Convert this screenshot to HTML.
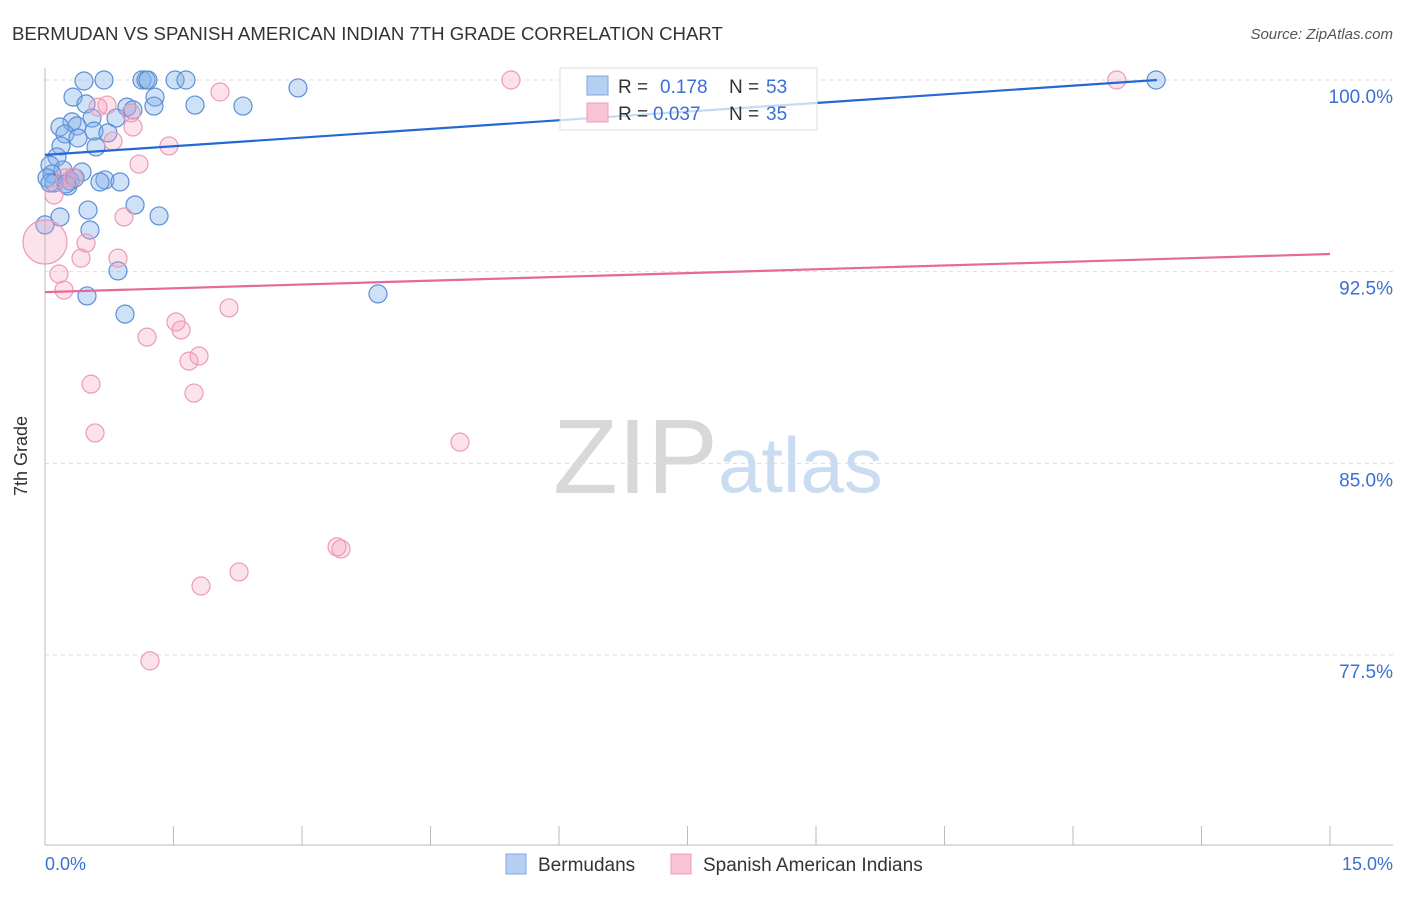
<!DOCTYPE html>
<html><head><meta charset="utf-8"><style>
body{margin:0;background:#fff;font-family:"Liberation Sans",sans-serif}
svg text{font-family:"Liberation Sans",sans-serif}
</style></head><body>
<svg width="1406" height="892" xmlns="http://www.w3.org/2000/svg">
<text x="12" y="40" font-size="18.6" fill="#333">BERMUDAN VS SPANISH AMERICAN INDIAN 7TH GRADE CORRELATION CHART</text>
<text x="1393" y="39" font-size="15" fill="#555" font-style="italic" text-anchor="end">Source: ZipAtlas.com</text>
<g>
<text x="553" y="493" font-family="Liberation Serif,serif" font-size="106" fill="#d8d8d8">ZIP</text>
<text x="718" y="492" font-size="78" fill="#c9dcf2">atlas</text>
</g>
<g id="grid"></g>
<line x1="45" y1="68" x2="45" y2="845" stroke="#bbb"/>
<line x1="45" y1="845" x2="1393" y2="845" stroke="#bbb"/>
<g id="ticks"></g>
<text x="27" y="456" font-size="18" fill="#333" transform="rotate(-90 27 456)" text-anchor="middle">7th Grade</text>
<text x="45" y="870" font-size="18" fill="#3b6fd4">0.0%</text>
<text x="1393" y="870" font-size="18" fill="#3b6fd4" text-anchor="end">15.0%</text>
<g id="pts"></g>
<g id="lines"></g>
<g>
<rect x="560" y="68" width="257" height="62" fill="rgba(255,255,255,0.75)" stroke="#ddd"/>
<rect x="587" y="76" width="21" height="19" fill="#b6d0f3" stroke="#7ea6e0"/>
<rect x="587" y="103" width="21" height="19" fill="#f8c3d3" stroke="#eb9cb6"/>
<text x="618" y="93" font-size="19" fill="#333">R =</text><text x="660" y="93" font-size="19" fill="#3b6fd4">0.178</text>
<text x="729" y="93" font-size="19" fill="#333">N =</text><text x="766" y="93" font-size="19" fill="#3b6fd4">53</text>
<text x="618" y="120" font-size="19" fill="#333">R =</text><text x="653" y="120" font-size="19" fill="#3b6fd4">0.037</text>
<text x="729" y="120" font-size="19" fill="#333">N =</text><text x="766" y="120" font-size="19" fill="#3b6fd4">35</text>
</g>
<g>
<rect x="506" y="854" width="20" height="20" fill="#b6d0f3" stroke="#7ea6e0"/>
<text x="538" y="871" font-size="19" fill="#333">Bermudans</text>
<rect x="671" y="854" width="20" height="20" fill="#f8c3d3" stroke="#eb9cb6"/>
<text x="703" y="871" font-size="19" fill="#333">Spanish American Indians</text>
</g>
</svg>
<script>
const yTicks=[100,92.5,85,77.5];
const yTickLabels=["100.0%","92.5%","85.0%","77.5%"];
const xTicks=[0,1.5,3,4.5,6,7.5,9,10.5,12,13.5,15];
const blueX=[0.455,0.689,1.132,1.179,1.202,1.518,1.646,2.953,12.97,0.327,0.479,0.957,1.284,1.272,1.751,2.311,1.027,0.549,0.829,0.315,0.175,0.374,0.233,0.572,0.735,0.385,0.187,0.595,0.14,0.058,0.21,0.432,0.082,0.023,0.292,0.105,0.268,0.7,0.875,0.175,0.502,1.051,1.331,0,0.525,0.852,0.49,0.934,3.887,0.058,0.245,0.642,0.35];
const blueY=[99.96,100,100,100,100,100,100,99.69,100,99.33,99.06,98.94,99.33,98.98,99.02,98.98,98.83,98.51,98.51,98.36,98.16,98.2,97.89,98,97.93,97.73,97.42,97.38,96.99,96.67,96.48,96.4,96.32,96.17,96.05,95.97,95.85,96.09,96.01,94.64,94.91,95.11,94.68,94.33,94.13,92.53,91.55,90.84,91.63,95.97,95.93,96.01,96.17];
const pinkX=[5.44,12.51,2.043,0.724,1.004,1.027,0.794,1.447,1.097,0.327,0.105,0.922,0,0.479,0.42,0.852,0.163,0.222,2.148,1.529,1.588,1.191,1.798,1.681,1.739,0.537,0.584,4.844,3.409,3.455,2.265,1.821,1.226,0.619,0.233];
const pinkY=[100,100,99.53,99.02,98.71,98.16,97.61,97.42,96.71,96.2,95.5,94.64,93.66,93.62,93.03,93.03,92.41,91.78,91.08,90.53,90.22,89.94,89.2,89,87.75,88.1,86.19,85.83,81.73,81.65,80.75,80.2,77.27,98.94,96.17];
const pinkR=[9,9,9,9,9,9,9,9,9,9,9,9,22,9,9,9,9,9,9,9,9,9,9,9,9,9,9,9,9,9,9,9,9,9,9];
const blueLine=[[0,97.07],[12.98,100]];
const pinkLine=[[0,91.7],[15,93.19]];
const NS="http://www.w3.org/2000/svg";
const sx=v=>45+v/15*1285;
const sy=v=>80+(100-v)/7.5*191.67;
function mk(t,a,p){const e=document.createElementNS(NS,t);for(const k in a)e.setAttribute(k,a[k]);p.appendChild(e);return e;}
const grid=document.getElementById('grid');
yTicks.forEach((t,i)=>{
 const l=mk('line',{x1:45,x2:1393,y1:sy(t),y2:sy(t),stroke:'#ddd','stroke-dasharray':'4,4'},grid);
 
 
 const tx=mk('text',{x:1393,y:sy(t)+23,'font-size':19,fill:'#3b6fd4','text-anchor':'end'},grid);
 tx.textContent=yTickLabels[i];
 
 
});
const ticks=document.getElementById('ticks');
xTicks.forEach(t=>{
 const l=mk('line',{x1:sx(t),x2:sx(t),y1:826,y2:845,stroke:'#bbb'},ticks);
 
 
});
const pts=document.getElementById('pts');
blueX.forEach((x,i)=>{
 const c=mk('circle',{cx:sx(x),cy:sy(blueY[i]),r:9,fill:'rgba(130,175,232,0.38)',stroke:'#5b8fd8','stroke-width':1.2},pts);
 
 
});
pinkX.forEach((x,i)=>{
 const c=mk('circle',{cx:sx(x),cy:sy(pinkY[i]),r:pinkR[i],fill:'rgba(244,160,188,0.3)',stroke:'#ec9ab6','stroke-width':1.2},pts);
 
 
});
const lines=document.getElementById('lines');
const bl=mk('line',{x1:sx(blueLine[0][0]),y1:sy(blueLine[0][1]),x2:sx(blueLine[1][0]),y2:sy(blueLine[1][1]),stroke:'#2469d3','stroke-width':2.2},lines);


const pl=mk('line',{x1:sx(pinkLine[0][0]),y1:sy(pinkLine[0][1]),x2:sx(pinkLine[1][0]),y2:sy(pinkLine[1][1]),stroke:'#e5699a','stroke-width':2.2},lines);


</script>
</body></html>
